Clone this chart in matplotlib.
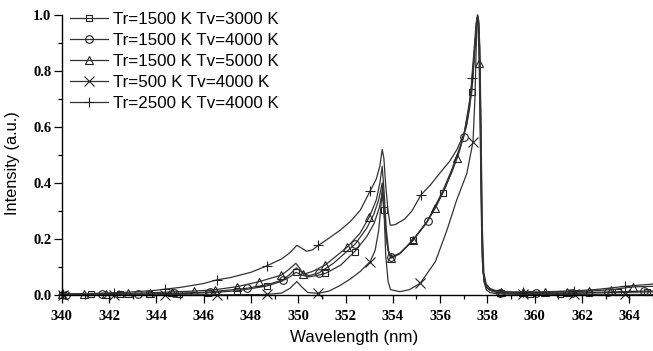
import matplotlib
matplotlib.use("Agg")
import matplotlib.pyplot as plt
from matplotlib.ticker import MultipleLocator

# ---------------- data ----------------
labels = ["Tr=1500 K Tv=3000 K", "Tr=1500 K Tv=4000 K", "Tr=1500 K Tv=5000 K",
          "Tr=500 K Tv=4000 K", "Tr=2500 K Tv=4000 K"]

# Tr=1500 K Tv=3000 K (squares)
wl_b = [340.0, 341.24, 342.48, 343.71, 344.95, 346.19, 347.43, 348.67, 349.3, 349.65, 349.91, 350.15,
        350.45, 350.75, 351.15, 351.8, 352.39, 352.9, 353.2, 353.42, 353.55, 353.62, 353.7, 353.8,
        353.92, 354.3, 354.86, 355.47, 356.1, 356.5, 356.8, 357.1, 357.34, 357.45, 357.53, 357.59,
        357.64, 357.69, 357.74, 357.79, 357.86, 357.95, 358.1, 358.3, 358.58, 359.81, 361.05, 362.29,
        363.53, 364.76, 365.0]
int_b = [0.002, 0.003, 0.003, 0.004, 0.006, 0.009, 0.016, 0.033, 0.05, 0.066, 0.082, 0.072,
         0.066, 0.07, 0.078, 0.108, 0.156, 0.21, 0.255, 0.31, 0.365, 0.304, 0.22, 0.16,
         0.136, 0.15, 0.197, 0.265, 0.364, 0.44, 0.51, 0.6, 0.726, 0.85, 0.96, 1.0,
         0.95, 0.75, 0.38, 0.12, 0.05, 0.028, 0.018, 0.012, 0.008, 0.006, 0.006, 0.008,
         0.01, 0.012, 0.012]
mk_b = [340.0, 341.24, 342.48, 343.71, 344.95, 346.19, 347.43, 348.67, 349.91, 351.15, 352.39,
        353.62, 354.86, 356.1, 357.34, 358.58, 359.81, 361.05, 362.29, 363.53, 364.76]

# Tr=1500 K Tv=4000 K (circles)
wl_c = [340.17, 341.7, 343.23, 344.76, 346.29, 347.82, 348.7, 349.35, 349.65, 349.92, 350.15, 350.45,
        350.88, 351.5, 352.41, 352.9, 353.2, 353.4, 353.55, 353.64, 353.73, 353.83, 353.94, 354.3,
        354.86, 355.47, 356.1, 356.5, 356.99, 357.2, 357.38, 357.48, 357.56, 357.62, 357.67, 357.72,
        357.77, 357.82, 357.9, 358.0, 358.2, 358.52, 360.05, 361.58, 363.11, 364.64, 365.0]
int_c = [0.002, 0.003, 0.004, 0.007, 0.012, 0.025, 0.038, 0.055, 0.075, 0.098, 0.082, 0.07,
         0.08, 0.115, 0.183, 0.24, 0.29, 0.34, 0.40, 0.30, 0.2, 0.148, 0.135, 0.15,
         0.198, 0.266, 0.37, 0.45, 0.565, 0.66, 0.78, 0.9, 0.99, 0.985, 0.88, 0.6,
         0.25, 0.08, 0.04, 0.025, 0.015, 0.009, 0.007, 0.008, 0.012, 0.015, 0.016]
mk_c = [340.17, 341.7, 343.23, 344.76, 346.29, 347.82, 349.35, 350.88, 352.41, 353.94, 355.47,
        356.99, 358.52, 360.05, 361.58, 363.11, 364.64]

# Tr=1500 K Tv=5000 K (triangles)
wl_d = [340.01, 340.94, 341.87, 342.8, 343.72, 344.65, 345.58, 346.5, 347.43, 348.36, 349.29, 349.6,
        349.9, 350.05, 350.22, 350.6, 351.14, 352.06, 352.6, 353.0, 353.3, 353.45, 353.55, 353.63,
        353.72, 353.82, 353.92, 354.3, 354.85, 355.4, 355.79, 356.2, 356.71, 357.0, 357.3, 357.45,
        357.55, 357.6, 357.65, 357.7, 357.75, 357.8, 357.9, 358.0, 358.2, 358.58, 359.51, 360.44,
        361.37, 362.3, 363.23, 364.16, 365.0]
int_d = [0.004, 0.005, 0.006, 0.007, 0.009, 0.012, 0.015, 0.02, 0.031, 0.049, 0.072, 0.092,
         0.114, 0.098, 0.075, 0.085, 0.108, 0.171, 0.22, 0.278, 0.34, 0.4, 0.46, 0.37,
         0.24, 0.16, 0.132, 0.148, 0.197, 0.255, 0.31, 0.38, 0.49, 0.57, 0.72, 0.87,
         0.98, 0.995, 0.83, 0.55, 0.25, 0.09, 0.045, 0.028, 0.018, 0.012, 0.01, 0.01,
         0.012, 0.015, 0.02, 0.03, 0.032]
mk_d = [340.01, 340.94, 341.87, 342.8, 343.72, 344.65, 345.58, 346.5, 347.43, 348.36, 349.29,
        350.22, 351.14, 352.06, 353.0, 353.92, 354.85, 355.79, 356.71, 357.65, 358.58, 359.51,
        360.44, 361.37, 362.3, 363.23, 364.16]

# Tr=500 K Tv=4000 K (x)
wl_e = [340.05, 342.21, 344.37, 346.56, 347.5, 348.67, 349.3, 349.65, 349.94, 350.15, 350.4, 350.85,
        351.3, 351.77, 352.2, 352.62, 353.04, 353.25, 353.4, 353.5, 353.57, 353.63, 353.7, 353.8,
        353.9, 354.3, 354.7, 355.16, 355.8, 356.29, 356.7, 357.13, 357.39, 357.47, 357.53, 357.58,
        357.63, 357.68, 357.73, 357.78, 357.85, 357.95, 358.1, 358.4, 359.5, 361.66, 363.82, 365.0]
int_e = [0.002, 0.002, 0.002, 0.002, 0.002, 0.003, 0.008, 0.025, 0.049, 0.03, 0.01, 0.007,
         0.015, 0.035, 0.058, 0.085, 0.12, 0.16, 0.23, 0.32, 0.40, 0.3, 0.14, 0.05,
         0.02, 0.013, 0.02, 0.043, 0.12, 0.233, 0.34, 0.435, 0.548, 0.7, 0.9, 0.99,
         0.97, 0.75, 0.4, 0.15, 0.05, 0.02, 0.01, 0.005, 0.003, 0.003, 0.003, 0.003]
mk_e = [340.05, 342.21, 344.37, 346.56, 348.67, 350.85, 353.04, 355.16, 357.39, 359.5, 361.66, 363.82]

# Tr=2500 K Tv=4000 K (+)
wl_a = [340.05, 341.0, 342.21, 343.0, 344.0, 344.37, 345.0, 346.0, 346.56, 347.12, 348.0, 348.67,
        349.3, 349.65, 349.94, 350.15, 350.35, 350.6, 350.85, 351.2, 351.77, 352.2, 352.62, 353.04,
        353.3, 353.45, 353.55, 353.62, 353.7, 353.8, 353.89, 354.1, 354.5, 354.8, 355.19, 355.6,
        356.0, 356.4, 356.71, 357.0, 357.13, 357.25, 357.34, 357.44, 357.52, 357.58, 357.63, 357.68,
        357.73, 357.78, 357.85, 357.95, 358.1, 358.3, 358.6, 359.0, 359.5, 360.0, 361.0, 361.66,
        362.5, 363.2, 363.82, 364.4, 365.0]
int_a = [0.005, 0.006, 0.009, 0.012, 0.018, 0.022, 0.028, 0.042, 0.055, 0.063, 0.082, 0.105,
         0.13, 0.152, 0.178, 0.168, 0.157, 0.162, 0.178, 0.198, 0.232, 0.263, 0.303, 0.372,
         0.415, 0.46, 0.52, 0.49, 0.39, 0.3, 0.25, 0.252, 0.272, 0.3, 0.358, 0.395,
         0.437, 0.478, 0.52, 0.575, 0.61, 0.67, 0.776, 0.88, 0.97, 1.0, 0.98, 0.88,
         0.6, 0.25, 0.08, 0.04, 0.025, 0.018, 0.014, 0.012, 0.012, 0.012, 0.014, 0.016,
         0.02, 0.026, 0.032, 0.036, 0.04]
mk_a = [340.05, 342.21, 344.37, 346.56, 348.67, 350.85, 353.04, 355.19, 357.34, 359.5, 361.66, 363.82]

x_ticks = [340, 342, 344, 346, 348, 350, 352, 354, 356, 358, 360, 362, 364]
y_ticks = [0.0, 0.2, 0.4, 0.6, 0.8, 1.0]

# ---------------- figure ----------------
fig = plt.figure(figsize=(6.53, 3.51), dpi=100)
ax = fig.add_axes([0.0945, 0.1587, 0.9055, 0.7986])

line_col = "#333333"
series = [
    (wl_b, int_b, mk_b, "s", 5.0),
    (wl_c, int_c, mk_c, "o", 5.5),
    (wl_d, int_d, mk_d, "^", 6.0),
    (wl_e, int_e, mk_e, "x", 6.5),
    (wl_a, int_a, mk_a, "+", 7.0),
]
for (wl, it, mk, m, ms), lab in zip(series, labels):
    idx = [wl.index(v) for v in mk]
    ax.plot(wl, it, color=line_col, lw=0.9, marker=m, markersize=ms,
            markerfacecolor="none", markeredgecolor="#222222", markeredgewidth=0.8,
            markevery=idx, label=lab, clip_on=False)

ax.set_xlim(340, 365)
ax.set_ylim(0, 1.0)
ax.set_xticks(x_ticks)
ax.set_yticks(y_ticks)
ax.set_yticklabels([f"{v:.1f}" for v in y_ticks])
ax.xaxis.set_minor_locator(MultipleLocator(1))
ax.yaxis.set_minor_locator(MultipleLocator(0.1))
ax.tick_params(which="major", direction="out", length=5.5, width=0.9)
ax.tick_params(which="minor", direction="out", length=2.8, width=0.9)
ax.tick_params(axis="x", pad=5)
ax.tick_params(axis="y", pad=2)

for sp in ("top", "right"):
    ax.spines[sp].set_visible(False)
for sp in ("left", "bottom"):
    ax.spines[sp].set_linewidth(1.0)

for lbl in ax.get_xticklabels() + ax.get_yticklabels():
    lbl.set_fontfamily("Liberation Serif")
    lbl.set_fontweight("bold")
    lbl.set_fontsize(10.5)

ax.set_xlabel("Wavelength (nm)", family="Liberation Sans", fontsize=12.2)
ax.xaxis.set_label_coords(0.495, -0.125)
ax.set_ylabel("Intensity (a.u.)", family="Liberation Sans", fontsize=11.8)
ax.yaxis.set_label_coords(-0.071, 0.472)

leg = ax.legend(loc="upper left", bbox_to_anchor=(0.0144, 1.012), frameon=False,
                borderpad=0, borderaxespad=0, handlelength=2.25, handletextpad=0.3,
                labelspacing=0.36, numpoints=1,
                prop=dict(family="Liberation Sans", size=12.2))

fig.savefig("out.png", dpi=100)
